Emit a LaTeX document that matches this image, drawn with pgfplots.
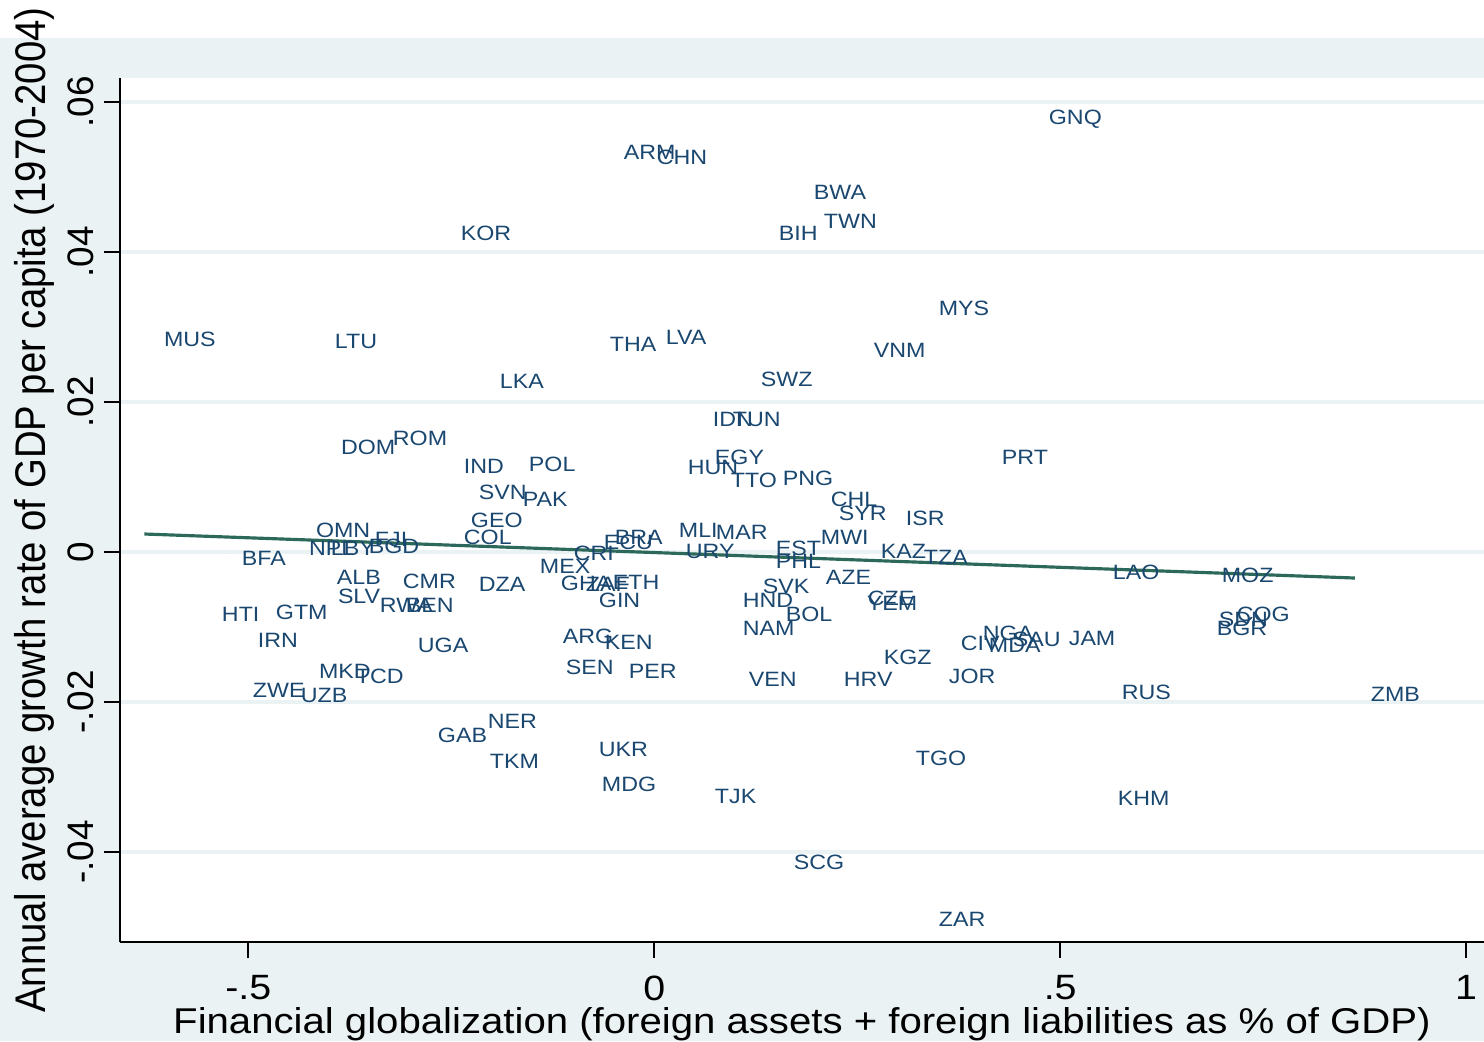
\documentclass[border=0pt]{standalone}
\usepackage{pgfplots}
\pgfplotsset{compat=1.18}
\usepackage{pgfplotstable}
\usepackage{graphicx}
\usepackage{fontspec}
\setmainfont{Liberation Sans}[FakeStretch=1.12]
\newfontfamily\rotfont{Liberation Sans}
\definecolor{bgc}{RGB}{234,242,243}
\definecolor{navy}{RGB}{26,71,111}
\definecolor{fitc}{RGB}{45,105,90}

\pgfplotstableread{
x y lab
0.4643 0.05773 GNQ
-0.0591 0.05333 ARM
-0.0185 0.05267 CHN
0.1749 0.04800 BWA
0.1872 0.04413 TWN
0.1318 0.04253 BIH
-0.2599 0.04253 KOR
0.3288 0.03253 MYS
-0.6256 0.02840 MUS
-0.4150 0.02813 LTU
-0.0764 0.02773 THA
-0.0074 0.02867 LVA
0.2488 0.02693 VNM
0.1096 0.02307 SWZ
-0.2118 0.02280 LKA
0.0505 0.01773 IDN
0.0751 0.01773 TUN
-0.3436 0.01520 ROM
-0.4076 0.01400 DOM
0.4064 0.01267 PRT
-0.2562 0.01147 IND
-0.1761 0.01173 POL
0.0197 0.01133 HUN
0.0530 0.01267 EGY
0.0727 0.00960 TTO
0.1367 0.00987 PNG
-0.2377 0.00800 SVN
-0.1835 0.00707 PAK
0.1958 0.00707 CHL
0.2057 0.00520 SYR
0.2882 0.00453 ISR
-0.2475 0.00427 GEO
0.0086 0.00293 MLI
0.0542 0.00267 MAR
-0.4384 0.00293 OMN
-0.3658 0.00173 FJI
-0.2562 0.00200 COL
-0.0702 0.00200 BRA
-0.0837 0.00133 ECU
0.1835 0.00200 MWI
-0.4470 0.00053 NPL
-0.4200 0.00053 LBY
-0.3732 0.00080 BGD
-0.1207 -0.00013 CRI
0.0172 0.00013 URY
0.1281 0.00053 EST
0.1281 -0.00120 PHL
0.2574 0.00013 KAZ
0.3103 -0.00067 TZA
-0.5296 -0.00080 BFA
-0.1626 -0.00187 MEX
0.5431 -0.00267 LAO
0.6773 -0.00307 MOZ
-0.4126 -0.00333 ALB
-0.3313 -0.00387 CMR
-0.2377 -0.00427 DZA
0.1897 -0.00333 AZE
-0.1367 -0.00413 GHA
-0.1059 -0.00427 ZAF
-0.0727 -0.00400 ETH
0.1121 -0.00453 SVK
-0.4113 -0.00587 SLV
-0.3596 -0.00707 RWA
-0.3276 -0.00707 BEN
-0.0899 -0.00640 GIN
0.0874 -0.00640 HND
0.2414 -0.00613 CZE
0.2401 -0.00680 YEM
0.1404 -0.00827 BOL
-0.5542 -0.00827 HTI
-0.4877 -0.00800 GTM
0.6736 -0.00893 SDN
0.6958 -0.00827 COG
0.6712 -0.01013 BGR
0.0874 -0.01013 NAM
-0.1342 -0.01120 ARG
-0.0825 -0.01200 KEN
-0.5099 -0.01173 IRN
0.3830 -0.01080 NGA
0.3559 -0.01213 CIV
0.3904 -0.01240 MDA
0.4200 -0.01160 SAU
0.4889 -0.01147 JAM
-0.3128 -0.01240 UGA
0.2611 -0.01400 KGZ
-0.1305 -0.01533 SEN
-0.0530 -0.01587 PER
-0.4347 -0.01587 MKD
-0.3892 -0.01653 TCD
0.0948 -0.01693 VEN
0.2118 -0.01693 HRV
0.3411 -0.01653 JOR
-0.5160 -0.01840 ZWE
-0.4569 -0.01907 UZB
0.5542 -0.01867 RUS
0.8608 -0.01893 ZMB
-0.2266 -0.02253 NER
-0.2882 -0.02440 GAB
-0.0899 -0.02627 UKR
-0.2241 -0.02787 TKM
0.3005 -0.02747 TGO
-0.0862 -0.03093 MDG
0.0530 -0.03253 TJK
0.5493 -0.03280 KHM
0.1502 -0.04133 SCG
0.3288 -0.04893 ZAR
}\countries

\begin{document}
\begin{tikzpicture}
\fill[bgc] (-1.20cm,-0.99cm) rectangle (13.64cm,9.04cm);
\fill[white] (-1.20cm,9.04cm) rectangle (13.64cm,9.42cm);
\useasboundingbox (-1.20cm,-0.99cm) rectangle (13.64cm,9.42cm);
\begin{axis}[
  at={(0,0)}, anchor=south west,
  scale only axis, width=13.64cm, height=8.64cm,
  xmin=-0.658, xmax=1.022, ymin=-0.052, ymax=0.0632,
  axis background/.style={fill=white},
  axis x line*=bottom, axis y line*=left,
  x axis line style={-, black, line width=0.6pt},
  y axis line style={-, black, line width=0.6pt},
  tick align=outside, major tick length=1.6mm,
  tick style={black, line width=0.6pt},
  scaled y ticks=false, scaled x ticks=false,
  xtick={-0.5,0,0.5,1},
  xticklabels={{\mbox{-.5}},{\mbox{0}},{\mbox{.5}},{\mbox{1}}},
  ytick={-0.04,-0.02,0,0.02,0.04,0.06},
  yticklabels={{\mbox{-.04}},{\mbox{-.02}},{\mbox{0}},{\mbox{.02}},{\mbox{.04}},{\mbox{.06}}},
  xticklabel style={font=\fontsize{10}{11}\selectfont, anchor=north, inner sep=0pt},
  xticklabel shift=1.7mm,
  yticklabel style={font=\rotfont\fontsize{10.5}{11}\selectfont, rotate=90, anchor=south, inner sep=0pt},
  yticklabel shift=0.9mm,
  ymajorgrids, major grid style={bgc, line width=1.4pt},
  xlabel={Financial globalization (foreign assets + foreign liabilities as \% of GDP)},
  xlabel style={font=\fontsize{10.2}{12}\selectfont, at={(axis description cs:0.5,-0.1063)}, anchor=base, inner sep=0pt},
  ylabel={\scalebox{1}[1.12]{Annual average growth rate of GDP per capita (1970-2004)}},
  ylabel style={font=\rotfont\fontsize{10.9}{12}\selectfont, at={(axis description cs:-0.0543,0.5)}, rotate=0, anchor=base, inner sep=0pt},
]
\addplot[only marks, mark=*, mark size=0pt, mark options={draw=none, fill=none},
  nodes near coords, point meta=explicit symbolic,
  nodes near coords style={anchor=west, inner sep=0pt, xshift=1.7mm,
    font=\fontsize{5.9}{6}\selectfont, text=navy}]
  table[x=x, y=y, meta=lab] {\countries};
\addplot[fitc, line width=0.9pt] coordinates {(-0.628,0.0024) (0.863,-0.00347)};
\end{axis}
\end{tikzpicture}
\end{document}
